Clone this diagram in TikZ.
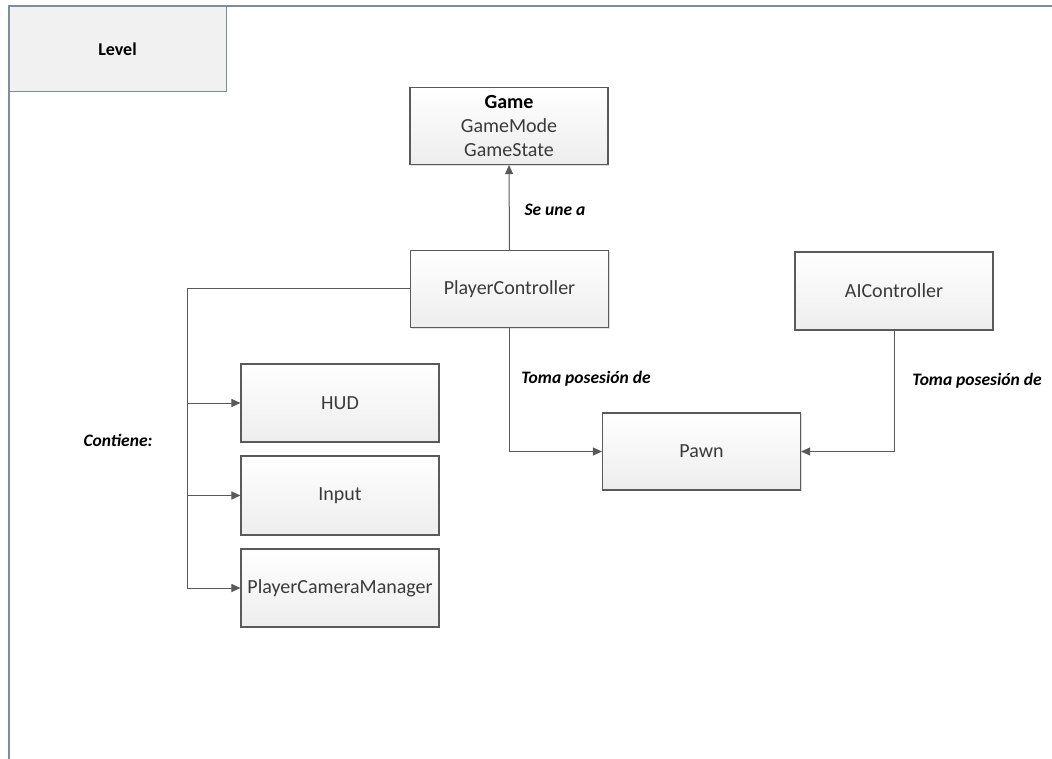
\documentclass[tikz,border=0pt]{standalone}
\usepackage{fontspec}
\setmainfont{Carlito}
\usetikzlibrary{arrows.meta,shadows}
\definecolor{framec}{HTML}{7F8C9A}
\definecolor{boxline}{HTML}{5A5A5A}
\definecolor{linec}{HTML}{595959}
\definecolor{txt}{HTML}{3A3A3A}
\tikzset{
  box/.style={draw=boxline,line width=1.1pt,top color=white,bottom color=gray!14,
    minimum width=198pt,minimum height=77pt,inner sep=0pt,align=center,
    font=\fontsize{20}{24}\selectfont,text=txt,
    drop shadow={shadow xshift=1.2pt,shadow yshift=-1.2pt,opacity=0.25}},
  conn/.style={draw=linec,line width=1pt},
  arr/.style={conn,-{Triangle[length=9pt,width=8pt]}},
  lbl/.style={font=\bfseries\itshape\fontsize{17.5}{20}\selectfont,text=black}
}
\begin{document}
\begin{tikzpicture}[x=1pt,y=-1pt]
\useasboundingbox (0,0) rectangle (1052,759);
\fill[white] (0,0) rectangle (1052,759);
% frame
\node[draw=framec,fill=gray!11,line width=1pt,minimum width=217pt,minimum height=86pt,
  inner sep=0pt,font=\bfseries\fontsize{18}{20}\selectfont] (level) at (117.5,49) {Level};
\draw[draw=framec,line width=1.2pt] (1052,6) -- (9,6) -- (9,759);
% boxes
\node[box,minimum height=77pt] (game) at (509,126) {\textbf{\color{black}Game}\\GameMode\\GameState};
\node[box,minimum height=77pt] (pc) at (509.5,289) {PlayerController};
\node[box,minimum height=78pt] (ai) at (894,291) {AIController};
\node[box,minimum height=78pt] (hud) at (340,403) {HUD};
\node[box,minimum height=79pt] (inp) at (340,495.5) {Input};
\node[box,minimum height=78pt] (pcm) at (340,588) {PlayerCameraManager};
\node[box] (pawn) at (701.5,451.5) {Pawn};
% connectors
\draw[arr] (pc.north) -- (game.south);
\coordinate (bus) at (187,289);
\draw[conn] (pc.west) -- (bus) -- (bus |- pcm.west);
\draw[arr] (bus |- hud.west) -- (hud.west);
\draw[arr] (bus |- inp.west) -- (inp.west);
\draw[arr] (bus |- pcm.west) -- (pcm.west);
\draw[arr] (pc.south) |- (pawn.west);
\draw[arr] (ai.south) |- (pawn.east);
% labels
\node[lbl] (l1) at (555,210) {Se une a};
\node[lbl] (l2) at (586,379) {Toma posesión de};
\node[lbl] (l3) at (977,381) {Toma posesión de};
\node[lbl] (l4) at (118,440) {Contiene:};
\end{tikzpicture}
\end{document}
